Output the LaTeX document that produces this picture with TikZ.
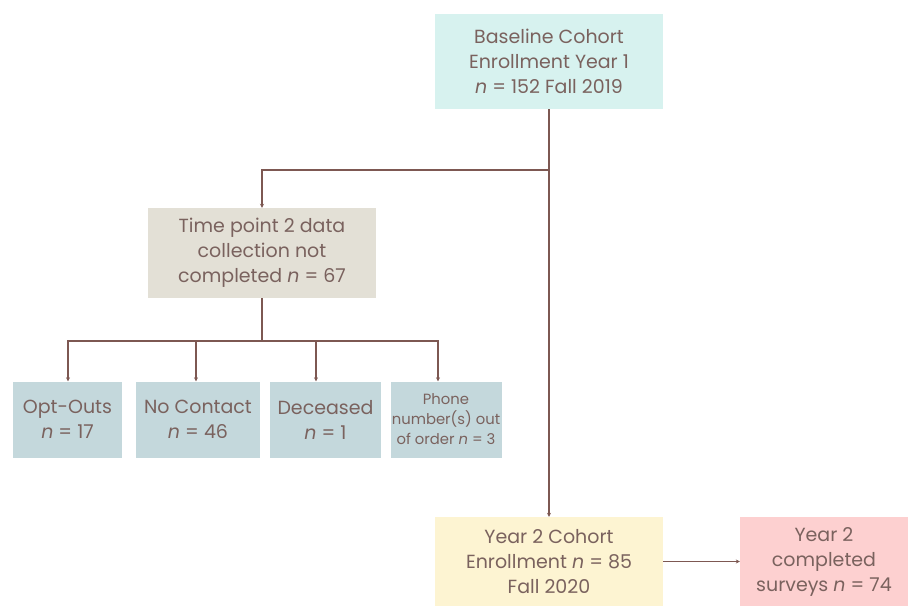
\documentclass[tikz,border=0pt]{standalone}
\usepackage{fontspec}
\setmainfont{Poppins}
\usetikzlibrary{arrows.meta,calc}
\definecolor{txt}{HTML}{7A625E}
\definecolor{ln}{HTML}{7D5852}
\definecolor{cyanbox}{HTML}{D7F2EF}
\definecolor{greybox}{HTML}{E3E0D6}
\definecolor{bluebox}{HTML}{C4D8DC}
\definecolor{yelbox}{HTML}{FDF4D2}
\definecolor{pinkbox}{HTML}{FDD0D0}
\tikzset{
  box/.style={inner sep=1pt, align=center, text=txt, font=\fontsize{19}{25}\selectfont},
  smallbox/.style={box, inner sep=0pt, font=\fontsize{14.8}{20}\selectfont},
  conn/.style={draw=ln, line width=1.1pt},
  arr/.style={conn, -{Stealth[length=4pt,width=4pt]}}
}
\begin{document}
\begin{tikzpicture}[x=1pt,y=-1pt]
\useasboundingbox (0,0) rectangle (910,606);
\node[box, fill=cyanbox, minimum width=228pt, minimum height=95pt] (base) at (549,61.5)
  {Baseline Cohort\\Enrollment Year 1\\\textit{n} = 152 Fall 2019};
\node[box, fill=greybox, minimum width=228pt, minimum height=90pt] (tp) at (262,253)
  {Time point 2 data\\collection not\\completed \textit{n} = 67};
\node[box, fill=bluebox, minimum width=109pt, minimum height=76pt] (opt) at (67.5,419.5)
  {Opt-Outs\\\textit{n} = 17};
\node[box, fill=bluebox, minimum width=124pt, minimum height=76pt] (noc) at (198,419.5)
  {No Contact\\\textit{n} = 46};
\node[box, fill=bluebox, minimum width=111pt, minimum height=76pt] (dec) at (325.5,419.5)
  {Deceased\\\textit{n} = 1};
\node[smallbox, fill=bluebox, minimum width=111pt, minimum height=76pt] (ph) at (446,419.5)
  {Phone\\number(s) out\\of order \textit{n} = 3};
\node[box, fill=yelbox, minimum width=228pt, minimum height=89pt] (y2) at (549,561.5)
  {Year 2 Cohort\\Enrollment \textit{n} = 85\\Fall 2020};
\node[box, fill=pinkbox, minimum width=168pt, minimum height=89pt] (comp) at (824,561.5)
  {Year 2\\completed\\surveys \textit{n} = 74};
\coordinate (split) at (549,170);
\coordinate (bus) at (262,341);
\draw[arr] (base.south) -- (y2.north);
\draw[arr] (split) -| (tp.north);
\draw[conn] (tp.south) -- (bus);
\draw[arr] (bus) -| ([xshift=0.5pt]opt.north);
\draw[arr] (bus) -| ([xshift=-2pt]noc.north);
\draw[arr] (bus) -| ([xshift=-9.5pt]dec.north);
\draw[arr] (bus) -| ([xshift=-8pt]ph.north);
\draw[arr] (y2.east) -- (comp.west);
\end{tikzpicture}
\end{document}
